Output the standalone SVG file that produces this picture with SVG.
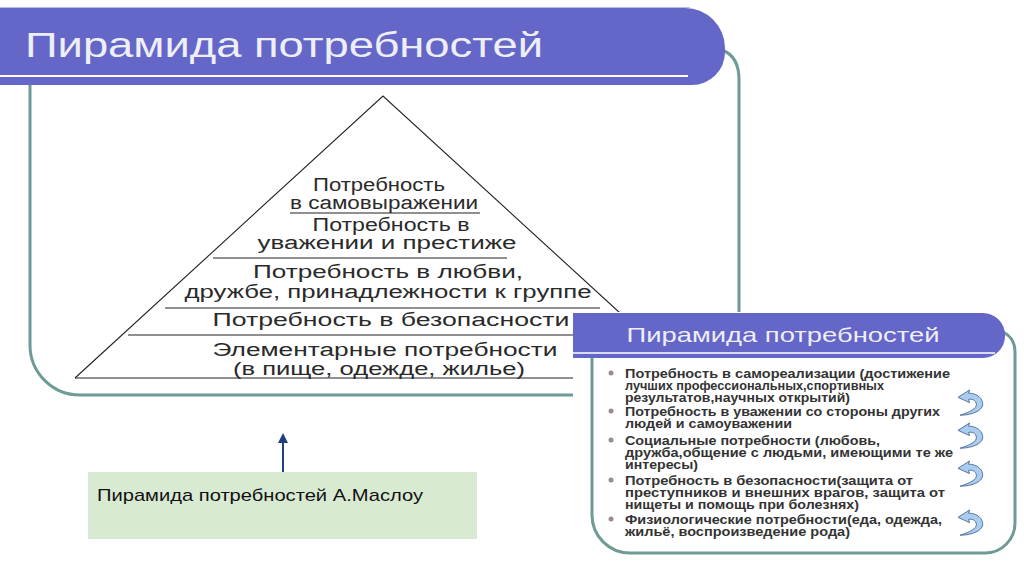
<svg xmlns="http://www.w3.org/2000/svg" width="1024" height="574" viewBox="0 0 1024 574">
<style>
.frame{fill:none;stroke:#6f9a96;stroke-width:3}
.banner{fill:#6466c8}
.ttl{font-family:"Liberation Sans",Arial,sans-serif;fill:#eeeef6}
.pt{font-family:"Liberation Sans",Arial,sans-serif;font-size:18px;fill:#2a2a2a;text-anchor:middle}
.sep{stroke:#222;stroke-width:1.2}
.bt{font-family:"Liberation Sans",Arial,sans-serif;font-size:12.5px;font-weight:bold;fill:#333}
.bul{fill:#9a8c8c}
.arr{fill:#a8cdf0;stroke:#4f6f95;stroke-width:0.9}
</style>
<defs>
<marker id="ah" viewBox="0 0 10 10" refX="5" refY="5" markerWidth="5" markerHeight="5" orient="auto">
<path d="M0,0 L10,5 L0,10 Z" fill="#1f3f7f"/>
</marker>
<path id="curl" d="M0,7 L11,0 L10,3 C18,3 24,8 23.5,14 C23,20 13,24 2,24 C11,21 18,18 17.5,13.5 C17,9.5 13,8 10,9 L11,12 Z"/>
</defs>
<rect width="1024" height="574" fill="#ffffff"/>

<g id="main-frame">
<path class="frame" d="M30,85 V345 A50,50 0 0 0 80,395 H740 M739,395 V80 Q739,56 722,50"/>
</g>

<g id="main-title">
<line x1="0" y1="7.5" x2="690" y2="7.5" stroke="#b9bae6" stroke-width="1"/>
<path class="banner" d="M0,8 H685 A40,40 0 0 1 725,48 V52 A33,33 0 0 1 692,85 H0 Z"/>
<line x1="0" y1="76" x2="688" y2="76" stroke="#ffffff" stroke-width="2"/>
<text class="ttl" x="25" y="57" font-size="35" textLength="518" lengthAdjust="spacingAndGlyphs">Пирамида потребностей</text>
</g>

<g id="pyramid">
<path d="M75,378 L383,96 L691,378" fill="none" stroke="#222" stroke-width="1.1"/>
<line class="sep" x1="75" y1="378" x2="691" y2="378"/>
<line class="sep" x1="290" y1="213" x2="480" y2="213"/>
<line class="sep" x1="213" y1="258" x2="507" y2="258"/>
<line class="sep" x1="165" y1="308" x2="600" y2="308"/>
<line class="sep" x1="128" y1="335" x2="600" y2="335" stroke-width="2"/>
<text class="pt" x="379" y="191" textLength="132" lengthAdjust="spacingAndGlyphs">Потребность</text>
<text class="pt" x="384" y="209" textLength="188" lengthAdjust="spacingAndGlyphs">в самовыражении</text>
<text class="pt" x="391" y="231" textLength="157" lengthAdjust="spacingAndGlyphs">Потребность в</text>
<text class="pt" x="387" y="249" textLength="259" lengthAdjust="spacingAndGlyphs">уважении и престиже</text>
<text class="pt" x="388" y="278" textLength="270" lengthAdjust="spacingAndGlyphs">Потребность в любви,</text>
<text class="pt" x="388" y="298" textLength="407" lengthAdjust="spacingAndGlyphs">дружбе, принадлежности к группе</text>
<text class="pt" x="391" y="326" textLength="357" lengthAdjust="spacingAndGlyphs">Потребность в безопасности</text>
<text class="pt" x="385" y="356" textLength="345" lengthAdjust="spacingAndGlyphs">Элементарные потребности</text>
<text class="pt" x="379" y="375" textLength="292" lengthAdjust="spacingAndGlyphs">(в пище, одежде, жилье)</text>
</g>

<g id="side-panel">
<rect x="573" y="312" width="451" height="262" fill="#ffffff"/>
<path class="frame" stroke-width="2.5" d="M592,358 V515 A38,38 0 0 0 630,553 H985 A30,30 0 0 0 1015,523 V352 Q1015,338 1003,332"/>
<path class="banner" d="M573,313 H983 A22,22 0 0 1 1005,335 V336 A22,22 0 0 1 983,358 H573 Z"/>
<line x1="573" y1="353" x2="995" y2="353" stroke="#ffffff" stroke-width="1.5"/>
<text class="ttl" x="783" y="342" font-size="21" text-anchor="middle" textLength="313" lengthAdjust="spacingAndGlyphs">Пирамида потребностей</text>
<circle class="bul" cx="611" cy="373" r="2.5"/>
<circle class="bul" cx="611" cy="411" r="2.5"/>
<circle class="bul" cx="611" cy="440" r="2.5"/>
<circle class="bul" cx="611" cy="480" r="2.5"/>
<circle class="bul" cx="611" cy="519" r="2.5"/>
<text class="bt" x="625" y="378" textLength="325" lengthAdjust="spacingAndGlyphs">Потребность в самореализации (достижение</text>
<text class="bt" x="625" y="390" textLength="259" lengthAdjust="spacingAndGlyphs">лучших профессиональных,спортивных</text>
<text class="bt" x="625" y="402" textLength="225" lengthAdjust="spacingAndGlyphs">результатов,научных открытий)</text>
<text class="bt" x="625" y="416" textLength="315" lengthAdjust="spacingAndGlyphs">Потребность в уважении со стороны других</text>
<text class="bt" x="625" y="428" textLength="167" lengthAdjust="spacingAndGlyphs">людей и самоуважении</text>
<text class="bt" x="625" y="445" textLength="255" lengthAdjust="spacingAndGlyphs">Социальные потребности (любовь,</text>
<text class="bt" x="625" y="457" textLength="328" lengthAdjust="spacingAndGlyphs">дружба,общение с людьми, имеющими те же</text>
<text class="bt" x="625" y="469" textLength="73" lengthAdjust="spacingAndGlyphs">интересы)</text>
<text class="bt" x="625" y="485" textLength="288" lengthAdjust="spacingAndGlyphs">Потребность в безопасности(защита от</text>
<text class="bt" x="625" y="497" textLength="320" lengthAdjust="spacingAndGlyphs">преступников и внешних врагов, защита от</text>
<text class="bt" x="625" y="509" textLength="234" lengthAdjust="spacingAndGlyphs">нищеты и помощь при болезнях)</text>
<text class="bt" x="625" y="524" textLength="317" lengthAdjust="spacingAndGlyphs">Физиологические потребности(еда, одежда,</text>
<text class="bt" x="625" y="536" textLength="225" lengthAdjust="spacingAndGlyphs">жильё, воспроизведение рода)</text>
<use href="#curl" class="arr" transform="translate(958,390) scale(1.05)"/>
<use href="#curl" class="arr" transform="translate(958,423) scale(1.05)"/>
<use href="#curl" class="arr" transform="translate(958,461) scale(1.05)"/>
<use href="#curl" class="arr" transform="translate(958,510) scale(1.05)"/>
</g>

<g id="caption">
<rect x="88" y="472" width="389" height="67" fill="#d9ead3"/>
<text x="97" y="501" font-family="Liberation Sans, Arial, sans-serif" font-size="17" fill="#111" textLength="326" lengthAdjust="spacingAndGlyphs">Пирамида потребностей А.Маслоу</text>
</g>

<g id="connectors">
<line x1="283" y1="472" x2="283" y2="438" stroke="#1f3f7f" stroke-width="2" marker-end="url(#ah)"/>
</g>
</svg>
